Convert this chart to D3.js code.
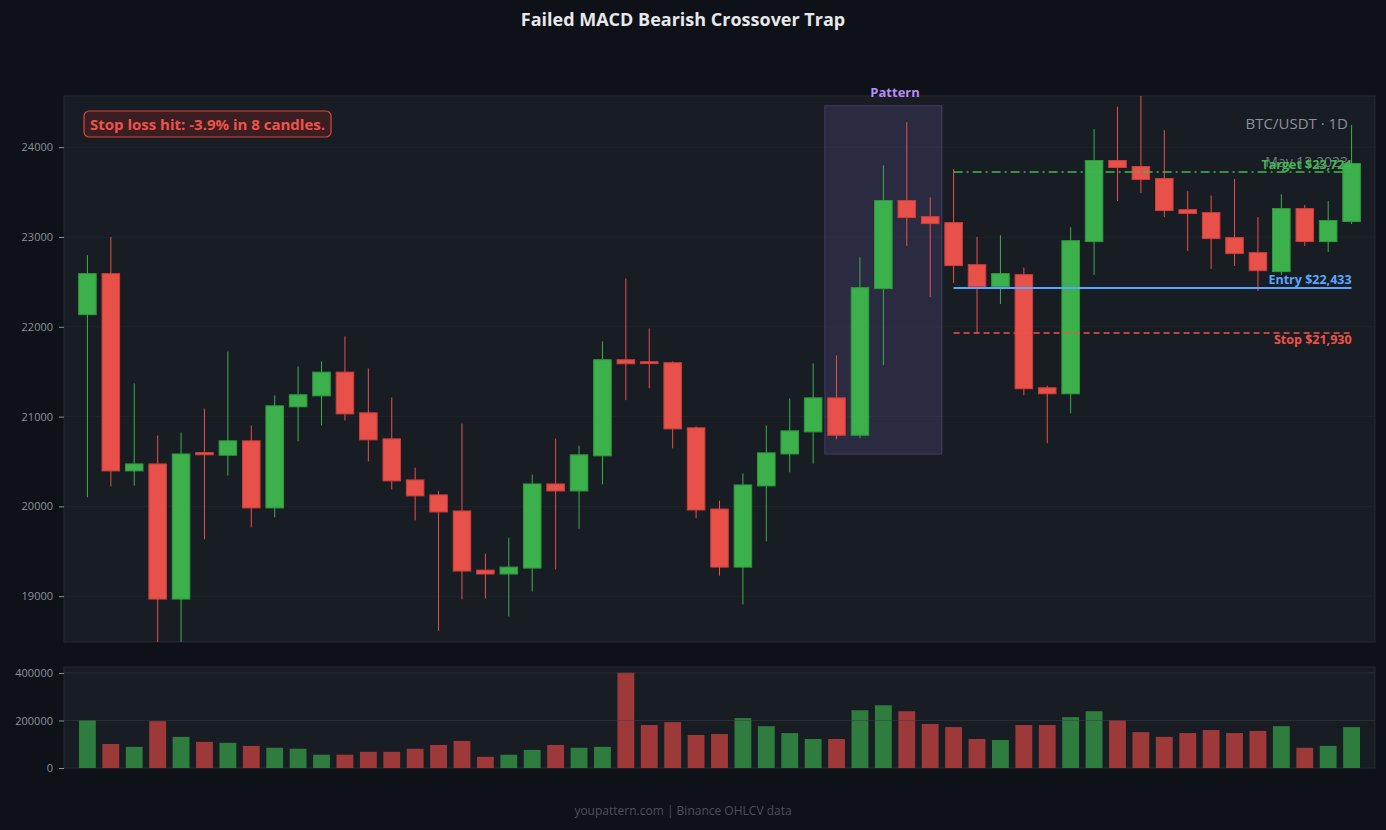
<!DOCTYPE html>
<html>
<head>
<meta charset="utf-8">
<script src="https://cdn.jsdelivr.net/npm/d3@7"></script>
<style>
  body { margin: 0; background: #0e1117; }
  text { font-family: 'Open Sans', sans-serif; }
</style>
</head>
<body>
<div id="chart"></div>
<script>
// OHLCV data (daily candles)
var opens = [22135, 22592, 20395, 20473, 18968, 20600, 20570, 20730, 19983, 21109,
  21231, 21495, 21042, 20752, 20295, 20128, 19949, 19291, 19247, 19313,
  20250, 20172, 20563, 21633, 21611, 21600, 20875, 19971, 19324, 20228,
  20584, 20830, 21209, 20792, 22425, 23406, 23227, 23160, 22692, 22447,
  22581, 21321, 21254, 22949, 23852, 23785, 23651, 23305, 23272, 22993,
  22826, 22614, 23316, 22949, 23172];
var highs = [22796, 23000, 21369, 20789, 20822, 21090, 21725, 20900, 21235, 21558,
  21614, 21893, 21536, 21213, 20432, 20175, 20923, 19473, 19651, 20354,
  20755, 20677, 21837, 22539, 21982, 21614, 20890, 20064, 20365, 20900,
  21201, 21592, 21681, 22773, 23799, 24279, 23443, 23755, 23000, 23019,
  22659, 21343, 23108, 24201, 24450, 24620, 24190, 23509, 23461, 23647,
  23223, 23476, 23357, 23402, 24245];
var lows = [20101, 20224, 20231, 18450, 18460, 19633, 20343, 19767, 19878, 20725,
  20900, 20956, 20502, 20190, 19845, 18615, 18964, 18975, 18774, 19053,
  19298, 19752, 20246, 21183, 21316, 20647, 19867, 19228, 18908, 19611,
  20380, 20477, 20748, 20759, 21573, 22900, 22331, 22487, 21930, 22253,
  21238, 20703, 21037, 22577, 23402, 23490, 23223, 22844, 22643, 22677,
  22398, 22577, 22900, 22833, 23145];
var closes = [22592, 20395, 20473, 18968, 20584, 20575, 20730, 19983, 21120, 21243,
  21495, 21030, 20741, 20284, 20117, 19938, 19280, 19247, 19324, 20250,
  20172, 20574, 21633, 21588, 21590, 20863, 19960, 19324, 20239, 20596,
  20841, 21209, 20792, 22436, 23406, 23216, 23149, 22681, 22447, 22592,
  21310, 21254, 22959, 23852, 23774, 23640, 23294, 23261, 22982, 22815,
  22625, 23316, 22949, 23183, 23818];
var volumes = [201000, 101000, 89000, 197000, 131000, 110000, 106000, 93000, 85000, 81000,
  56000, 56000, 68000, 68000, 81000, 97000, 114000, 47000, 56000, 76000,
  97000, 85000, 89000, 401000, 181000, 193000, 139000, 143000, 210000, 176000,
  147000, 122000, 122000, 243000, 264000, 239000, 185000, 172000, 122000, 118000,
  181000, 181000, 214000, 239000, 201000, 151000, 131000, 147000, 160000, 147000,
  156000, 176000, 85000, 93000, 172000];

var priceTicks = [19000, 20000, 21000, 22000, 23000, 24000];
var volumeTicks = [0, 200000, 400000];

// Pattern + trade setup
var patternStart = 32;
var patternEnd = 36;
var tradeStart = 37;
var entryPrice = 22433;
var stopPrice = 21930;
var targetPrice = 23724;
var lastDate = 'May 13 2023';

var data = opens.map(function (o, i) {
  return { i: i, open: o, high: highs[i], low: lows[i], close: closes[i], vol: volumes[i] };
});

var chart_width = 1386;
var chart_height = 830;
var green = '#3cb04b';
var red = '#e8504a';

var svg = d3.select('#chart')
  .append('svg')
  .attr('width', chart_width)
  .attr('height', chart_height)
  .style('background', '#0e1117');

var main = { left: 64, right: 1375, top: 96, bottom: 642 };
var vol = { left: 64, right: 1375, top: 667, bottom: 768 };

// Scales
var xScale = d3.scaleLinear()
  .domain([-1, data.length])
  .range([main.left, main.right]);
var step = xScale(1) - xScale(0);

var yScale = d3.scaleLinear()
  .domain([18490, 24570])
  .range([main.bottom, main.top]);

var vScale = d3.scaleLinear()
  .domain([0, 425000])
  .range([vol.bottom, vol.top]);

// Panels
[main, vol].forEach(function (p) {
  svg.append('rect')
    .attr('x', p.left)
    .attr('y', p.top)
    .attr('width', p.right - p.left)
    .attr('height', p.bottom - p.top)
    .attr('fill', '#181c23')
    .attr('stroke', '#242932');
});

svg.append('clipPath')
  .attr('id', 'clip-main')
  .append('rect')
  .attr('x', main.left)
  .attr('y', main.top)
  .attr('width', main.right - main.left)
  .attr('height', main.bottom - main.top);

// Grid lines in price panel
svg.append('g')
  .selectAll('line')
  .data(priceTicks)
  .enter()
  .append('line')
  .attr('x1', main.left)
  .attr('x2', main.right)
  .attr('y1', d => yScale(d))
  .attr('y2', d => yScale(d))
  .attr('stroke', '#1f242c');

// Axes
var yAxis = svg.append('g')
  .attr('transform', 'translate(' + main.left + ',0)')
  .call(d3.axisLeft(yScale).tickValues(priceTicks).tickSize(5).tickPadding(6).tickFormat(d3.format('d')));
var vAxis = svg.append('g')
  .attr('transform', 'translate(' + vol.left + ',0)')
  .call(d3.axisLeft(vScale).tickValues(volumeTicks).tickSize(5).tickPadding(6).tickFormat(d3.format('d')));

[yAxis, vAxis].forEach(function (a) {
  a.select('.domain').remove();
  a.selectAll('.tick line').attr('stroke', '#8b919b');
  a.selectAll('.tick text')
    .attr('fill', '#8b919b')
    .style('font-size', '11px')
    .style('font-family', "'Open Sans', sans-serif");
});

// Pattern box
var patTop = d3.max(data.slice(patternStart, patternEnd + 1), d => d.high) * 1.0075;
var patBottom = d3.min(data.slice(patternStart, patternEnd + 1), d => d.low) * 0.992;
svg.append('rect')
  .attr('x', xScale(patternStart) - step / 2)
  .attr('y', yScale(patTop))
  .attr('width', xScale(patternEnd) - xScale(patternStart) + step)
  .attr('height', yScale(patBottom) - yScale(patTop))
  .attr('fill', '#8a6fd6')
  .attr('fill-opacity', 0.17)
  .attr('stroke', '#6a5a9a')
  .attr('stroke-opacity', 0.5);

svg.append('text')
  .attr('x', (xScale(patternStart) + xScale(patternEnd)) / 2 + step / 2)
  .attr('y', 97)
  .attr('text-anchor', 'middle')
  .attr('fill', '#b88cf5')
  .style('font-size', '13px')
  .style('font-weight', 'bold')
  .text('Pattern');

// Candles
var candles = svg.append('g')
  .attr('clip-path', 'url(#clip-main)')
  .selectAll('g')
  .data(data)
  .enter()
  .append('g');

candles.append('line')
  .attr('x1', d => xScale(d.i))
  .attr('x2', d => xScale(d.i))
  .attr('y1', d => yScale(d.high))
  .attr('y2', d => yScale(d.low))
  .attr('stroke', d => d.close >= d.open ? green : red)
  .attr('stroke-width', 1);

candles.append('rect')
  .attr('x', d => xScale(d.i) - step * 0.375)
  .attr('y', d => yScale(Math.max(d.open, d.close)))
  .attr('width', step * 0.75)
  .attr('height', d => Math.max(1, Math.abs(yScale(d.open) - yScale(d.close))))
  .attr('fill', d => d.close >= d.open ? green : red)
  .attr('stroke', d => d.close >= d.open ? '#2f9a3e' : '#cc3f3a')
  .attr('stroke-width', 1);

// Trade levels
var x1 = xScale(tradeStart);
var x2 = xScale(data.length - 1);
var levels = [
  { price: targetPrice, color: '#3fb950', dash: '9,4,2,4', width: 1.5, label: 'Target $' + d3.format(',')(targetPrice), dy: -3 },
  { price: entryPrice, color: '#58a6ff', dash: null, width: 2, label: 'Entry $' + d3.format(',')(entryPrice), dy: -4 },
  { price: stopPrice, color: '#f0524a', dash: '6,4', width: 1.5, label: 'Stop $' + d3.format(',')(stopPrice), dy: 11 }
];

svg.selectAll('.level')
  .data(levels)
  .enter()
  .append('line')
  .attr('class', 'level')
  .attr('x1', x1)
  .attr('x2', x2)
  .attr('y1', d => yScale(d.price))
  .attr('y2', d => yScale(d.price))
  .attr('stroke', d => d.color)
  .attr('stroke-width', d => d.width)
  .attr('stroke-dasharray', d => d.dash);

// Corner labels
svg.append('text')
  .attr('x', 1348)
  .attr('y', 129)
  .attr('text-anchor', 'end')
  .attr('fill', '#8b919b')
  .style('font-size', '15px')
  .text('BTC/USDT · 1D');

svg.append('text')
  .attr('x', 1348)
  .attr('y', 167)
  .attr('text-anchor', 'end')
  .attr('fill', '#7d838d')
  .attr('fill-opacity', 0.9)
  .style('font-size', '14px')
  .text(lastDate);

svg.selectAll('.level-label')
  .data(levels)
  .enter()
  .append('text')
  .attr('class', 'level-label')
  .attr('x', x2)
  .attr('y', d => yScale(d.price) + d.dy)
  .attr('text-anchor', 'end')
  .attr('fill', d => d.color)
  .style('font-size', '12.5px')
  .style('font-weight', 'bold')
  .text(d => d.label);

// Volume bars
svg.append('g')
  .selectAll('rect')
  .data(data)
  .enter()
  .append('rect')
  .attr('x', d => xScale(d.i) - step * 0.36)
  .attr('y', d => vScale(d.vol))
  .attr('width', step * 0.72)
  .attr('height', d => vScale(0) - vScale(d.vol))
  .attr('fill', d => d.close >= d.open ? '#2e7c3e' : '#9d3a39');

// Volume grid on top
svg.append('g')
  .selectAll('line')
  .data(volumeTicks.slice(1))
  .enter()
  .append('line')
  .attr('x1', vol.left)
  .attr('x2', vol.right)
  .attr('y1', d => vScale(d))
  .attr('y2', d => vScale(d))
  .attr('stroke', '#3a3f47')
  .attr('stroke-opacity', 0.5);

// Result annotation
var note = svg.append('g');
var noteText = note.append('text')
  .attr('x', 90)
  .attr('y', 129.5)
  .attr('fill', '#f0524a')
  .style('font-size', '15px')
  .style('font-weight', 'bold')
  .text('Stop loss hit: -3.9% in 8 candles.');
var bb = noteText.node().getBBox();
note.insert('rect', 'text')
  .attr('x', bb.x - 6)
  .attr('y', 111)
  .attr('width', bb.width + 12)
  .attr('height', 26)
  .attr('rx', 5)
  .attr('fill', '#3a1e21')
  .attr('stroke', '#d9463f')
  .attr('stroke-width', 1.2);

// Title and footer
svg.append('text')
  .attr('x', 683)
  .attr('y', 26)
  .attr('text-anchor', 'middle')
  .attr('fill', '#e6e8eb')
  .style('font-size', '18px')
  .style('font-weight', 'bold')
  .text('Failed MACD Bearish Crossover Trap');

svg.append('text')
  .attr('x', 683)
  .attr('y', 815)
  .attr('text-anchor', 'middle')
  .attr('fill', '#4a505b')
  .style('font-size', '12px')
  .text('youpattern.com | Binance OHLCV data');
</script>
</body>
</html>
